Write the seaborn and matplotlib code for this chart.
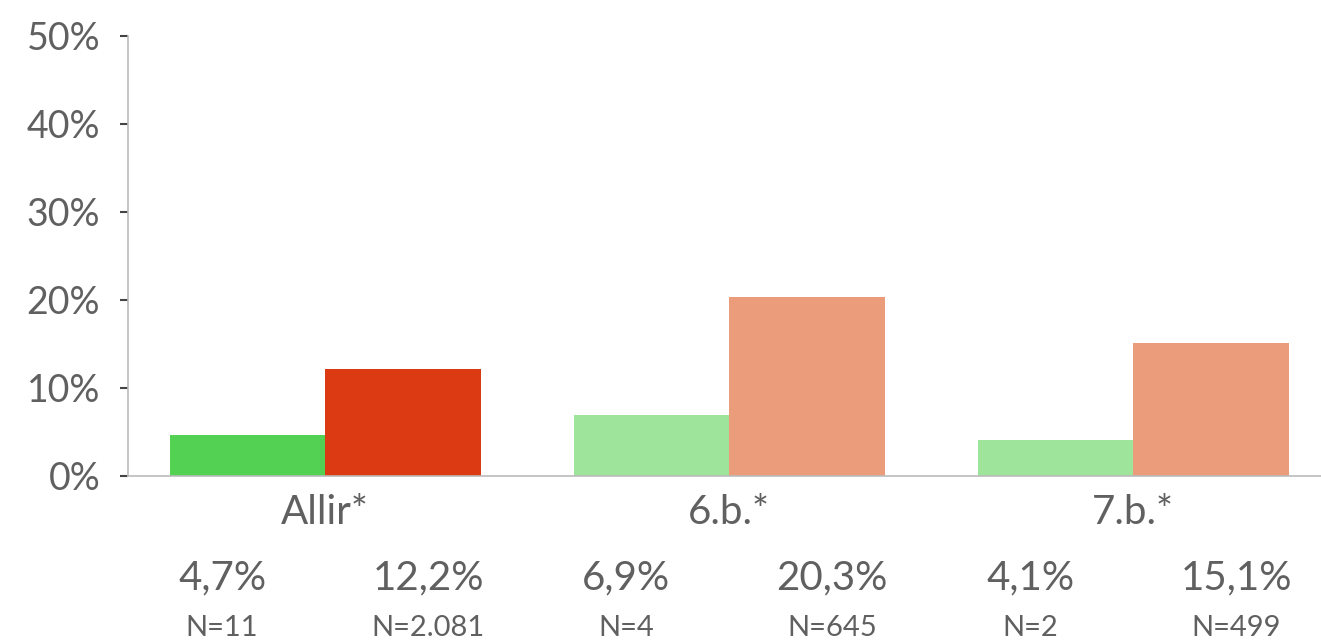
import matplotlib
matplotlib.use("Agg")
import matplotlib.pyplot as plt
import seaborn as sns
import pandas as pd

# data
categories = ["Allir*", "6.b.*", "7.b.*"]
group_a = [4.7, 6.9, 4.1]
group_b = [12.2, 20.3, 15.1]
n_a = ["N=11", "N=4", "N=2"]
n_b = ["N=2.081", "N=645", "N=499"]

colors_a = ["#52d152", "#9fe49b", "#9fe49b"]
colors_b = ["#dc3a12", "#eb9c7a", "#eb9c7a"]

df = pd.DataFrame({
    "category": categories * 2,
    "value": group_a + group_b,
    "group": ["A"] * 3 + ["B"] * 3,
})

sns.set_style("white")
plt.rcParams["font.family"] = ["Lato", "DejaVu Sans"]
text_color = "#606060"

fig = plt.figure(figsize=(13.21, 6.44), dpi=100)
ax = fig.add_axes([128 / 1321, 1 - 476 / 644, 1 - 128 / 1321, 440 / 644])

sns.barplot(
    data=df, x="category", y="value", hue="group",
    palette=[colors_a[0], colors_b[0]], width=0.77,
    legend=False, ax=ax, saturation=1,
)

# recolor each bar (patches are ordered by hue then category)
bar_colors = colors_a + colors_b
for patch, c in zip(ax.patches, bar_colors):
    patch.set_facecolor(c)
    patch.set_edgecolor("none")

ax.set_ylim(0, 50)
ax.set_xlim(-0.488, 2.465)
ax.set_yticks(range(0, 51, 10))
ax.set_yticklabels([f"{v}%" for v in range(0, 51, 10)])
ax.set_xlabel("")
ax.set_ylabel("")

ax.tick_params(axis="y", length=6, width=1.5, color="#444444", pad=14,
               labelsize=27, labelcolor=text_color, left=True)
ax.tick_params(axis="x", length=0, pad=13, labelsize=29, labelcolor=text_color)

sns.despine(ax=ax, top=True, right=True)
ax.spines["left"].set_color("#bbbbbb")
ax.spines["bottom"].set_color("#bbbbbb")
ax.spines["left"].set_linewidth(1.2)
ax.spines["bottom"].set_linewidth(1.2)

# value and N labels under each bar
for i in range(len(categories)):
    for off, val, n in [(-0.255, group_a[i], n_a[i]), (0.255, group_b[i], n_b[i])]:
        ax.text(i + off, -11.6, f"{val:.1f}%".replace(".", ","), ha="center",
                va="center", fontsize=29, color=text_color, clip_on=False)
        ax.text(i + off, -17.3, n, ha="center", va="center", fontsize=21,
                color=text_color, clip_on=False)

fig.savefig("out.png", dpi=100)
